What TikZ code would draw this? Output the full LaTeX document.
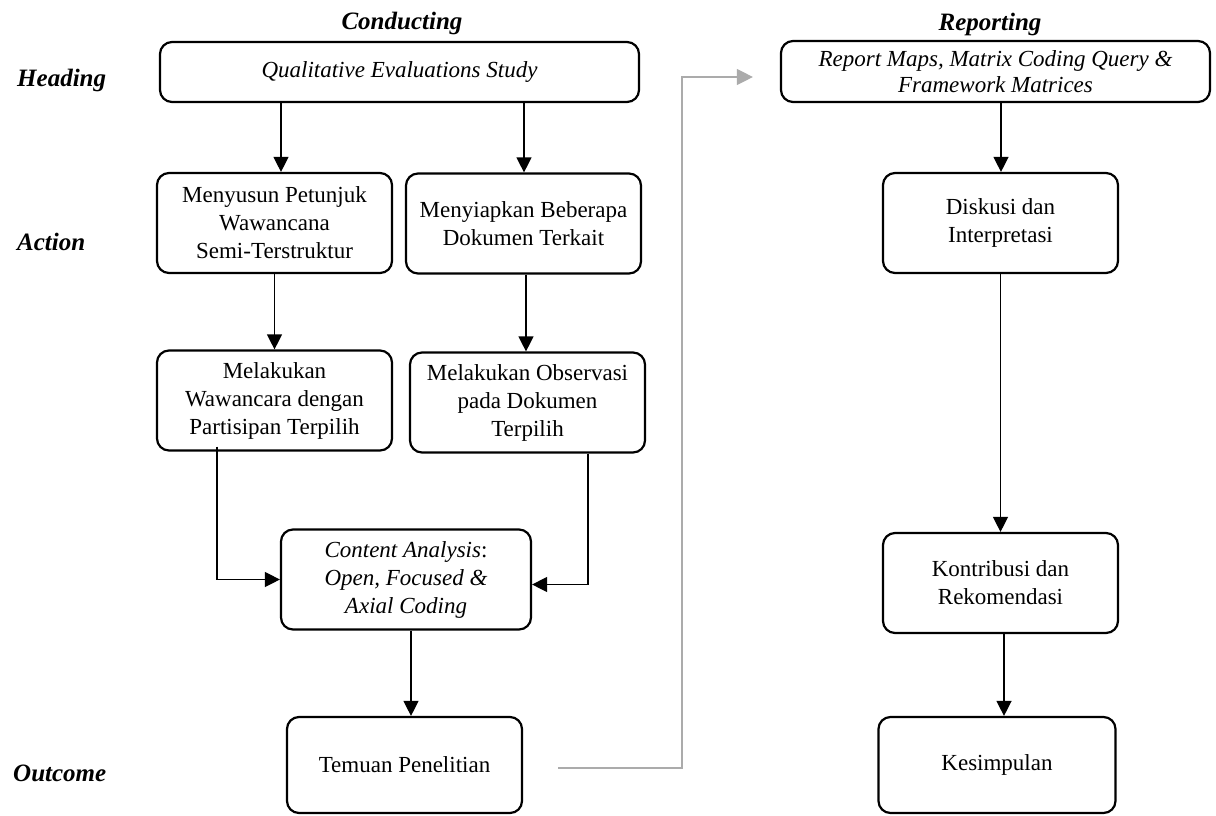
\documentclass[tikz,border=0pt]{standalone}
\usepackage{fontspec}
\setmainfont{Liberation Serif}
\usetikzlibrary{arrows.meta}
\newcommand\bodyfont{\fontsize{23}{28}\selectfont}
\newcommand\labfont{\fontsize{25}{30}\selectfont\bfseries\itshape}
\tikzset{
  box/.style={draw, rounded corners=12pt, line width=2.2pt, align=center, inner sep=0pt, font=\bodyfont, minimum width=235pt, minimum height=100pt},
  arr/.style={-{Triangle[length=15pt,width=15pt]}, line width=1.3pt},
  grayarr/.style={-{Triangle[length=16pt,width=16pt]}, line width=1.3pt, draw=black!33, color=black!33},
  lab/.style={font=\labfont, inner sep=0pt}
}
\begin{document}
\begin{tikzpicture}[x=1pt,y=-1pt]
\useasboundingbox (0,0) rectangle (1216,815);
% column and row labels
\node[lab] (tconduct) at (402,23) {Conducting};
\node[lab] (treport) at (990,24) {Reporting};
\node[lab, anchor=west] (lhead) at (17,80) {Heading};
\node[lab, anchor=west] (laction) at (17,242) {Action};
\node[lab, anchor=west] (lout) at (13,773) {Outcome};
% conducting boxes
\node[box, minimum width=479pt, minimum height=60pt] (qual) at (399.5,72) {\textit{Qualitative Evaluations Study}};
\node[box] (menyusun) at (274.5,223) {Menyusun Petunjuk\\Wawancana\\Semi-Terstruktur};
\node[box] (menyiapkan) at (523.5,223.5) {Menyiapkan Beberapa\\Dokumen Terkait};
\node[box] (wawancara) at (274.5,400.5) {Melakukan\\Wawancara dengan\\Partisipan Terpilih};
\node[box] (observasi) at (527.5,402.5) {Melakukan Observasi\\pada Dokumen\\Terpilih};
\node[box, minimum width=250pt] (content) at (406,579.5) {\textit{Content Analysis}:\\\textit{Open, Focused \&}\\\textit{Axial Coding}};
\node[box, minimum height=96pt] (temuan) at (404.5,765) {Temuan Penelitian};
% reporting boxes
\node[box, minimum width=429pt, minimum height=61pt] (report) at (995.5,71.5) {\textit{Report Maps, Matrix Coding Query \&}\\[-2pt]\textit{Framework Matrices}};
\node[box] (diskusi) at (1000.5,223) {Diskusi dan\\Interpretasi};
\node[box] (kontribusi) at (1000.5,583) {Kontribusi dan\\Rekomendasi};
\node[box, minimum width=237pt, minimum height=96pt] (kesimpulan) at (997,765) {Kesimpulan};
% connectors
\draw[arr] (qual.south -| 281,0) -- (menyusun.north -| 281,0);
\draw[arr] (qual.south -| 524,0) -- (menyiapkan.north -| 524,0);
\draw[arr] (menyusun) -- (wawancara);
\draw[arr] (menyiapkan.south -| 526,0) -- (observasi.north -| 526,0);
\draw[arr] ([yshift=5pt]wawancara.south -| 217,0) |- (content.west);
\draw[arr] (observasi.south -| 588,0) |- ([yshift=-5pt]content.east);
\draw[arr] (content.south -| 411,0) -- (temuan.north -| 411,0);
\draw[grayarr] ([shift={(35pt,-3pt)}]temuan.east) -| ([shift={(-98pt,-5.5pt)}]report.west) -- ([shift={(-27pt,-5.5pt)}]report.west);
\draw[arr] (report.south -| 1001,0) -- (diskusi.north -| 1001,0);
\draw[arr] (diskusi) -- (kontribusi);
\draw[arr] (kontribusi.south -| 1004,0) -- (kesimpulan.north -| 1004,0);
\end{tikzpicture}
\end{document}
